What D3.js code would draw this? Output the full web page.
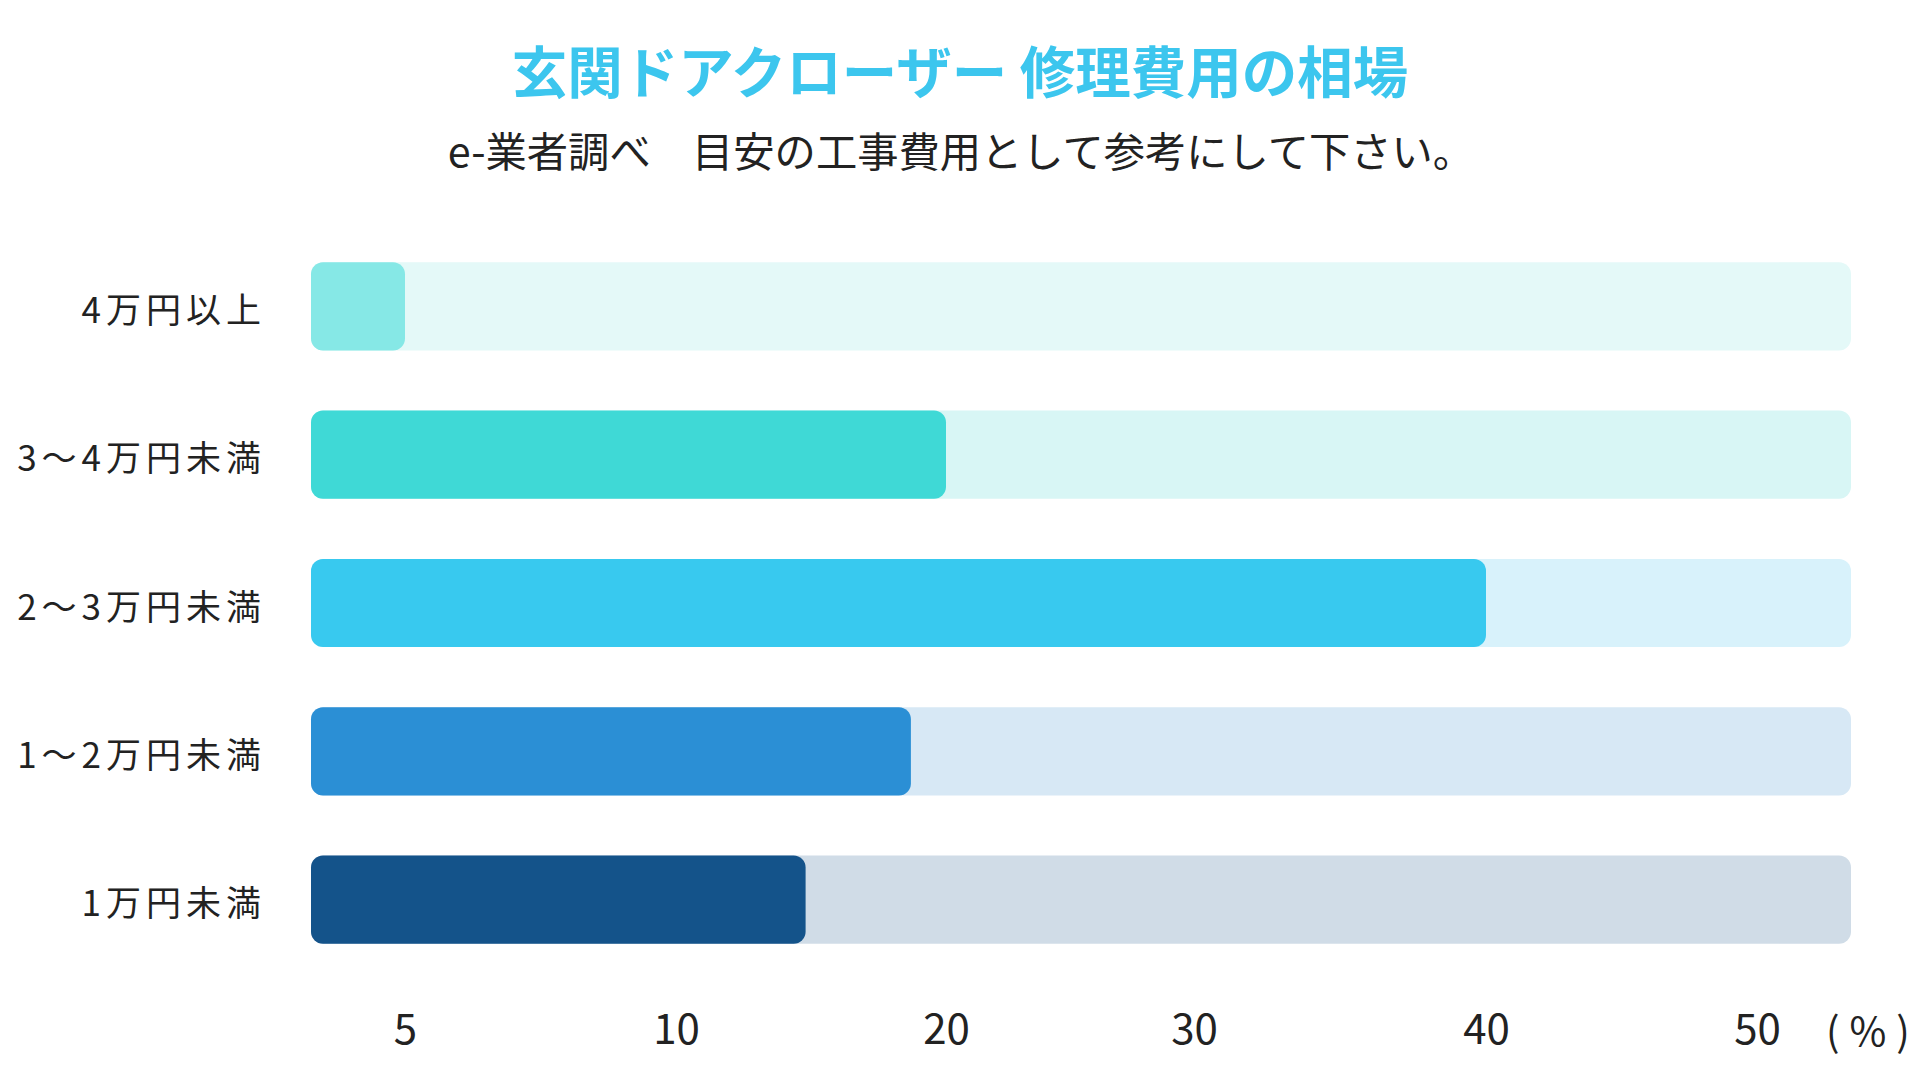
<!DOCTYPE html>
<html><head><meta charset="utf-8">
<script src="https://cdn.jsdelivr.net/npm/d3@7"></script>
<style>html,body{margin:0;padding:0;background:#fff;}svg{display:block;}</style>
</head><body>
<svg id="chart" width="1920" height="1080"></svg>
<script>
const categories = ["4万円以上", "3～4万円未満", "2～3万円未満", "1～2万円未満", "1万円未満"];
const values = [5, 20, 40, 18.7, 14.8];
const tickValues = [5, 10, 20, 30, 40, 50];
const tickLabels = ["5", "10", "20", "30", "40", "50"];
const barColors = ["#86e8e6", "#3fd9d6", "#38c9ef", "#2b8fd5", "#14538a"];
const trackColors = ["#e4f9f8", "#d8f6f5", "#d8f2fb", "#d7e8f5", "#d0dce7"];
const titleText = "玄関ドアクローザー 修理費用の相場";
const subtitleText = "e-業者調べ　目安の工事費用として参考にして下さい。";
const unitText = "(%)";

const svg = d3.select("#chart");
const font = "'Noto Sans CJK JP','Noto Sans',sans-serif";

const left = 311, right = 1851;
// piecewise scale: evenly spaced labelled ticks, as in the reference
const x = d3.scaleLinear()
  .domain([0, 5, 10, 20, 30, 40, 50, 55])
  .range([left, 405, 676, 946, 1194, 1486, 1757, right]);

const y = d3.scaleBand().domain(categories).range([240, 966]).paddingInner(0.405).paddingOuter(0.15);

svg.append("text").attr("x", 960).attr("y", 93).attr("text-anchor", "middle")
  .attr("font-family", font).attr("font-weight", 700).attr("font-size", 55.5)
  .attr("fill", "#3cc6ee").text(titleText);
svg.append("text").attr("x", 961).attr("y", 167).attr("text-anchor", "middle")
  .attr("font-family", font).attr("font-size", 41.3).attr("fill", "#222").text(subtitleText);

const rows = svg.append("g").selectAll("g").data(categories).join("g");
rows.append("rect").attr("x", x(0)).attr("y", d => y(d))
  .attr("width", x(55) - x(0)).attr("height", y.bandwidth())
  .attr("rx", 12).attr("fill", (d, i) => trackColors[i]);
rows.append("rect").attr("x", x(0)).attr("y", d => y(d))
  .attr("width", (d, i) => x(values[i]) - x(0)).attr("height", y.bandwidth())
  .attr("rx", 12).attr("fill", (d, i) => barColors[i]);
rows.append("text").attr("x", 266).attr("y", d => y(d) + y.bandwidth() / 2 + 4)
  .attr("dy", "0.36em").attr("text-anchor", "end")
  .attr("font-family", font).attr("font-size", 35).attr("letter-spacing", 5)
  .attr("fill", "#222").text(d => d);

const axis = d3.axisBottom(x).tickValues(tickValues)
  .tickFormat((d, i) => tickLabels[i]).tickSize(0).tickPadding(0);
const ag = svg.append("g").attr("transform", "translate(0,1014)").call(axis);
ag.select(".domain").remove();
ag.selectAll("text").attr("font-family", font).attr("font-size", 42).attr("fill", "#222");

svg.append("text").attr("x", 1826).attr("y", 1046)
  .attr("font-family", font).attr("font-size", 40).attr("letter-spacing", 10)
  .attr("fill", "#222").text(unitText);
</script>
</body></html>
